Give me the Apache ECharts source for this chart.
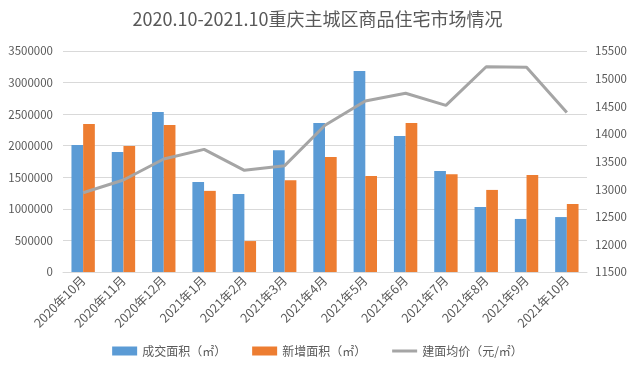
<!DOCTYPE html>
<html><head><meta charset="utf-8">
<script src="https://cdn.jsdelivr.net/npm/echarts@6/dist/echarts.min.js"></script>
<style>html,body{margin:0;padding:0;background:#fff}#c{width:635px;height:374px}</style>
</head><body><div id="c"></div>
<script>
const categories = ['2020年10月','2020年11月','2020年12月','2021年1月','2021年2月','2021年3月','2021年4月','2021年5月','2021年6月','2021年7月','2021年8月','2021年9月','2021年10月'];
const dealArea = [2010000,1900000,2535000,1425000,1235000,1930000,2360000,3185000,2155000,1600000,1030000,840000,870000];
const newArea = [2345000,1995000,2330000,1285000,490000,1455000,1820000,1520000,2360000,1550000,1300000,1535000,1075000];
const avgPrice = [12935,13165,13545,13720,13340,13425,14155,14595,14735,14515,15215,15205,14385];
const seriesNames = ['成交面积（㎡）','新增面积（㎡）','建面均价（元/㎡）'];
const titleText = '2020.10-2021.10重庆主城区商品住宅市场情况';

const chart = echarts.init(document.getElementById('c'), null, {renderer:'canvas'});
const font = '"Noto Sans CJK SC", "Noto Sans", sans-serif';
chart.setOption({
  animation:false,
  textStyle:{fontFamily:font},
  title:{text:titleText,left:'center',top:5,textStyle:{fontSize:18,fontWeight:'normal',color:'#595959',fontFamily:font}},
  grid:{left:63,right:48,top:51,bottom:102},
  legend:{bottom:12,left:'center',itemWidth:25,itemHeight:9,itemGap:26,
    textStyle:{fontSize:12,color:'#595959'},
    data:[{name:seriesNames[0],icon:'rect'},{name:seriesNames[1],icon:'rect'},
          {name:seriesNames[2],icon:'path://M0,0 H25 V3 H0 Z'}]},
  xAxis:{type:'category',data:categories,
    axisLine:{lineStyle:{color:'#d9d9d9'}},axisTick:{show:false},
    axisLabel:{rotate:45,fontSize:12.5,color:'#595959',interval:0,margin:6}},
  yAxis:[
    {type:'value',min:0,max:3500000,interval:500000,
     axisLabel:{fontSize:11.5,color:'#595959',margin:10,formatter:v=>String(v)},
     splitLine:{lineStyle:{color:'#d9d9d9',width:1}},axisLine:{show:false},axisTick:{show:false}},
    {type:'value',min:11500,max:15500,interval:500,
     axisLabel:{fontSize:11.5,color:'#595959',margin:8,formatter:v=>String(v)},
     splitLine:{show:false},axisLine:{show:false},axisTick:{show:false}}
  ],
  series:[
    {name:seriesNames[0],type:'bar',data:dealArea,barWidth:'29%',barGap:'0%',itemStyle:{color:'#5B9BD5'}},
    {name:seriesNames[1],type:'bar',data:newArea,barWidth:'29%',barGap:'0%',itemStyle:{color:'#ED7D31'}},
    {name:seriesNames[2],type:'line',yAxisIndex:1,data:avgPrice,symbol:'none',
     lineStyle:{color:'#A5A5A5',width:3},itemStyle:{color:'#A5A5A5'}}
  ]
});
</script></body></html>
